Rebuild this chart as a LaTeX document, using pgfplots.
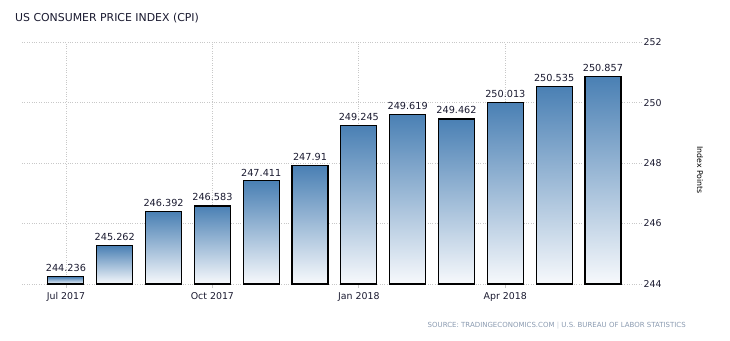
\documentclass[border=0pt]{standalone}
\usepackage{pgfplots}
\pgfplotsset{compat=1.18}
\usepackage{fontspec}
\setmainfont{DejaVu Sans}
\definecolor{bartop}{HTML}{4A80B4}
\definecolor{barbot}{HTML}{F7F9FC}
\definecolor{gridc}{HTML}{C8C8C8}
\definecolor{srcc}{HTML}{8A9AB0}
\definecolor{lblc}{HTML}{1A1A30}
\tikzset{mybar/.style={draw=black, line width=1.1pt, top color=bartop, bottom color=barbot}}
\begin{document}
\begin{tikzpicture}
\path[use as bounding box] (0,0) rectangle (730pt,340pt);
\node[anchor=west, font=\fontsize{10.9}{12}\selectfont, text=lblc, inner sep=0pt] at (15pt,322pt) {US CONSUMER PRICE INDEX (CPI)};
\node[anchor=east, font=\fontsize{7}{8}\selectfont, text=srcc, inner sep=0pt] at (686pt,14pt) {SOURCE: TRADINGECONOMICS.COM {\color{srcc!50}|} U.S.\ BUREAU OF LABOR STATISTICS};
\node[rotate=-90, font=\fontsize{7.8}{9}\selectfont, text=black, inner sep=0pt] at (700pt,170pt) {Index Points};
\begin{axis}[
  at={(22pt,56pt)}, anchor=south west,
  scale only axis, width=620pt, height=241.7pt,
  /pgf/number format/assume math mode=true,
  y coord trafo/.code={\pgfmathparse{#1-244}},
  y coord inv trafo/.code={\pgfmathparse{#1+244}},
  ymin=244, ymax=252,
  xmin=-0.9, xmax=11.8,
  ytick={244,246,248,250,252},
  yticklabels={244,246,248,250,252},
  xtick={0,3,6,9},
  xticklabels={Jul 2017,Oct 2017,Jan 2018,Apr 2018},
  yticklabel pos=right,
  yticklabel style={anchor=west, xshift=-2pt},
  ticklabel style={font=\fontsize{9.4}{10}\selectfont, text=lblc},
  xticklabel style={yshift=-1pt},
  axis line style={draw=none},
  ytick style={draw=none},
  xtick style={draw=gridc, line width=0.8pt},
  major tick length=4pt,
  tick pos=bottom,
  xmajorgrids, ymajorgrids,
  grid style={dotted, gridc, line width=0.8pt},
  clip=false,
  ybar, bar width=36pt, bar shift=0pt,
  nodes near coords,
  point meta=explicit symbolic,
  every node near coord/.append style={font=\fontsize{9.7}{10}\selectfont, text=lblc, yshift=1pt},
]
\addplot[mybar] coordinates {(0,244.236) [244.236]};
\addplot[mybar] coordinates {(1,245.262) [245.262]};
\addplot[mybar] coordinates {(2,246.392) [246.392]};
\addplot[mybar] coordinates {(3,246.583) [246.583]};
\addplot[mybar] coordinates {(4,247.411) [247.411]};
\addplot[mybar] coordinates {(5,247.910) [247.91]};
\addplot[mybar] coordinates {(6,249.245) [249.245]};
\addplot[mybar] coordinates {(7,249.619) [249.619]};
\addplot[mybar] coordinates {(8,249.462) [249.462]};
\addplot[mybar] coordinates {(9,250.013) [250.013]};
\addplot[mybar] coordinates {(10,250.535) [250.535]};
\addplot[mybar] coordinates {(11,250.857) [250.857]};
\end{axis}
\end{tikzpicture}
\end{document}
